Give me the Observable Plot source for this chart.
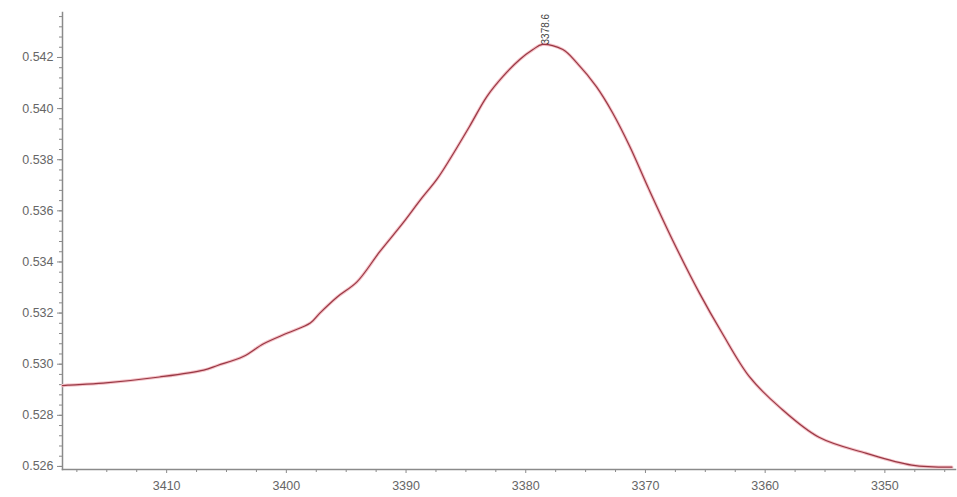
<!DOCTYPE html>
<html>
<head>
<meta charset="utf-8">
<script src="https://cdn.jsdelivr.net/npm/d3@7"></script>
<script src="https://cdn.jsdelivr.net/npm/@observablehq/plot@0.6"></script>
<style>
  html, body { margin: 0; padding: 0; background: #fff; }
  #chart svg { display: block; }
</style>
</head>
<body>
<div id="chart"></div>
<script>
// Wavenumber (x) and absorbance (y)
const wavenumber = [3418.7, 3418.25, 3415.3, 3410.6, 3406.9, 3405.75, 3403.6, 3401.9, 3399.9, 3398.0, 3397.2,
  3395.75, 3394.1, 3392.2, 3390.25, 3388.8, 3387.4, 3386.3, 3384.7, 3383.25, 3381.9, 3380.5, 3379.4,
  3378.6, 3376.9, 3375.75, 3374.1, 3372.75, 3371.3, 3369.7, 3367.75, 3365.5, 3363.6, 3361.3, 3358.8,
  3355.5, 3351.6, 3347.75, 3344.4];
const absorbance = [0.52916, 0.52918, 0.52926, 0.52950, 0.52977, 0.52995, 0.53030, 0.53080, 0.53122, 0.53161, 0.53200,
  0.53263, 0.53322, 0.53440, 0.53553, 0.53643, 0.53725, 0.53805, 0.53930, 0.54047, 0.54126, 0.54192, 0.54231,
  0.54251, 0.54231, 0.54180, 0.54086, 0.53984, 0.53851, 0.53683, 0.53487, 0.53279, 0.53122, 0.52950, 0.52832,
  0.52714, 0.52652, 0.52605, 0.52597];

const peakX = [3378.6];
const peakY = [0.54251];
const peakLabel = ["3378.6"];

const xTicks = [3410, 3400, 3390, 3380, 3370, 3360, 3350];
const yTicks = [0.526, 0.528, 0.530, 0.532, 0.534, 0.536, 0.538, 0.540, 0.542];

const xDomain = [3418.7, 3344.1];
const yDomain = [0.52588, 0.54376];

const spectrum = wavenumber.map((w, i) => ({x: w, y: absorbance[i]}));
const peaks = peakX.map((w, i) => ({x: w, y: peakY[i], label: peakLabel[i]}));

const xMinor = d3.range(3345, 3418.7, 2.5).filter(v => !xTicks.includes(v));
const yMinor = d3.range(0, 45).map(i => +(0.5260 + i * 0.0004).toFixed(4)).filter(v => v <= yDomain[1] && v >= yDomain[0]);

const axisColor = "#8a8a8a";
const textColor = "#666";

const chart = Plot.plot({
  width: 957,
  height: 497,
  marginLeft: 62,
  marginRight: 2,
  marginTop: 12,
  marginBottom: 28,
  style: {fontFamily: "'Liberation Sans', Arial, sans-serif", fontSize: "12.5px", color: textColor, background: "#fff"},
  x: {domain: xDomain},
  y: {domain: yDomain},
  marks: [
    Plot.axisX(xMinor, {tickSize: 3, stroke: axisColor, text: null, label: null}),
    Plot.axisX(xTicks, {tickSize: 4, tickPadding: 8, stroke: axisColor, fill: textColor, tickFormat: d => String(d), label: null, fontSize: 12.5}),
    Plot.axisY(yMinor, {tickSize: 3, stroke: axisColor, text: null, label: null}),
    Plot.axisY(yTicks, {tickSize: 5, tickPadding: 4, stroke: axisColor, fill: textColor, tickFormat: d3.format(".3f"), label: null, fontSize: 12.5}),
    Plot.frame({anchor: "left", stroke: axisColor, strokeWidth: 1.5}),
    Plot.frame({anchor: "bottom", stroke: axisColor, strokeWidth: 1.5}),
    Plot.line(spectrum, {x: "x", y: "y", stroke: "#f4c2c8", strokeWidth: 3.2, curve: "catmull-rom"}),
    Plot.line(spectrum, {x: "x", y: "y", stroke: "#993844", strokeWidth: 1.2, curve: "catmull-rom"}),
    Plot.text(peaks, {x: "x", y: "y", text: "label", rotate: -90, textAnchor: "start", dx: 3, dy: 0, fontSize: 10, fill: "#444", fontFamily: "'Liberation Sans', Arial, sans-serif"})
  ]
});

document.getElementById("chart").appendChild(chart);
</script>
</body>
</html>
